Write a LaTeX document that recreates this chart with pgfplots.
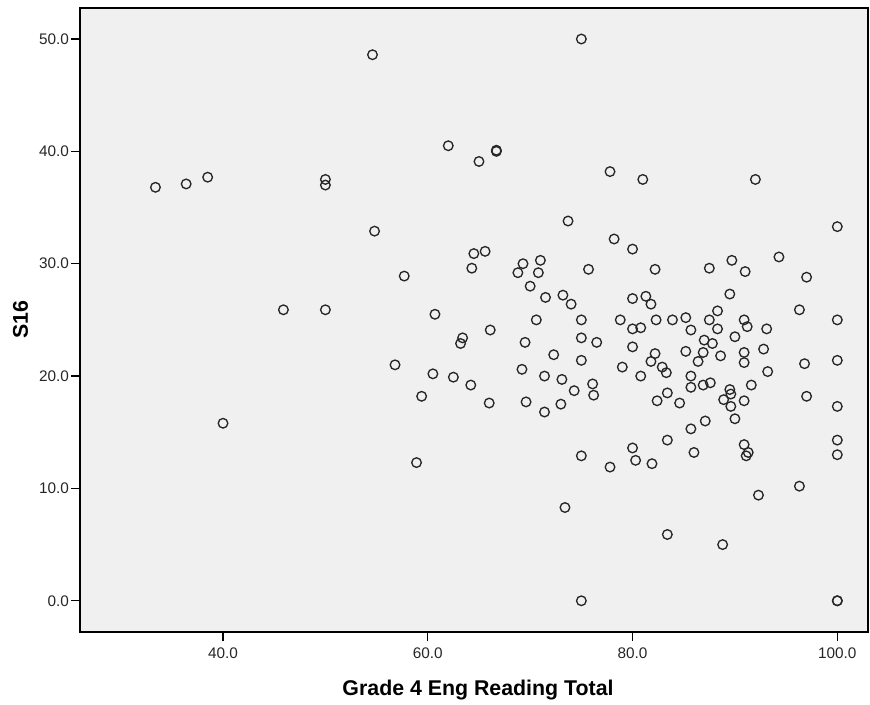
\documentclass[border=0pt]{standalone}
\usepackage{fontspec}
\setmainfont{Liberation Sans}
\usepackage{pgfplots}
\pgfplotsset{compat=1.18}
\definecolor{bg}{HTML}{F0F0F0}
\definecolor{mk}{HTML}{262626}
\begin{document}
\begin{tikzpicture}
\begin{axis}[
  at={(60pt,54pt)}, anchor=south west,
  scale only axis, width=591pt, height=468pt,
  xmin=26.03, xmax=103, ymin=-2.78, ymax=52.76,
  axis background/.style={fill=bg},
  axis line style={line width=1pt, black},
  xtick={40,60,80,100}, ytick={0,10,20,30,40,50},
  tick align=outside, major tick length=6.75pt,
  tick style={line width=1pt, black},
  xtick pos=bottom, ytick pos=left,
  minor tick num=0,
  /pgf/number format/.cd, fixed, fixed zerofill, precision=1, assume math mode=true,
  /pgfplots/.cd,
  tick label style={font=\fontsize{11.5}{13}\selectfont, text=black!85},
  xticklabel style={yshift=-1.5pt},
  yticklabel style={xshift=2pt},
  xlabel={Grade 4 Eng Reading Total},
  ylabel={S16},
  label style={font=\fontsize{16}{18}\selectfont\bfseries},
  xlabel style={at={(axis description cs:0.5051,-0.101)}, anchor=base},
  ylabel style={at={(axis description cs:-0.0755,0.5)}, anchor=center},
]
\addplot[only marks, mark=o, mark size=3.6pt, mark options={line width=1pt, draw=mk}] coordinates {
(33.4,36.8) (36.4,37.1) (38.5,37.7) (45.9,25.9) (40.0,15.8)
(54.6,48.6) (75.0,50.0) (62.0,40.5) (65.0,39.1) (66.7,40.0) (66.7,40.1)
(50.0,37.5) (50.0,37.0) (54.8,32.9) (73.7,33.8) (64.5,30.9) (65.6,31.1)
(64.3,29.6) (57.7,28.9) (69.3,30.0) (71.0,30.3) (68.8,29.2) (70.8,29.2)
(70.0,28.0) (71.5,27.0) (73.2,27.2) (74.0,26.4) (50.0,25.9) (60.7,25.5)
(70.6,25.0) (66.1,24.1) (75.0,25.0) (77.8,38.2) (81.0,37.5) (92.0,37.5)
(100,33.3) (78.2,32.2) (80.0,31.3) (75.7,29.5) (82.2,29.5) (87.5,29.6)
(89.7,30.3) (91.0,29.3) (94.3,30.6) (97.0,28.8) (89.5,27.3) (96.3,25.9)
(80.0,26.9) (81.3,27.1) (81.8,26.4) (88.3,25.8) (78.8,25.0) (82.3,25.0)
(83.9,25.0) (85.2,25.2) (87.5,25.0) (90.9,25.0) (100,25.0) (80.0,24.2)
(80.8,24.3) (85.7,24.1) (88.3,24.2) (91.2,24.4) (93.1,24.2) (75.0,23.4)
(76.5,23.0) (75.0,21.4) (74.3,18.7) (76.1,19.3) (76.2,18.3) (80.0,22.6)
(79.0,20.8) (80.8,20.0) (82.2,22.0) (81.8,21.3) (82.9,20.8) (83.3,20.3)
(85.2,22.2) (86.4,21.3) (86.9,22.1) (87.0,23.2) (87.8,22.9) (88.6,21.8)
(85.7,20.0) (85.7,19.0) (86.9,19.2) (87.6,19.4) (83.4,18.5) (82.4,17.8)
(84.6,17.6) (89.5,18.8) (89.6,18.4) (88.9,17.9) (89.6,17.3) (90.9,17.8)
(91.6,19.2) (90.9,22.1) (90.9,21.2) (90.0,23.5) (92.8,22.4) (93.2,20.4)
(96.8,21.1) (97.0,18.2) (100,21.4) (100,17.3) (100,14.3) (100,13.0)
(100,0.0) (100,0.0) (90.0,16.2) (87.1,16.0) (85.7,15.3) (83.4,14.3)
(80.0,13.6) (80.3,12.5) (81.9,12.2) (77.8,11.9) (75.0,12.9) (86.0,13.2)
(90.9,13.9) (91.3,13.2) (91.1,12.9) (96.3,10.2) (92.3,9.4) (83.4,5.9)
(88.8,5.0) (75.0,0.0) (73.4,8.3) (63.4,23.4) (63.2,22.9) (69.5,23.0)
(72.3,21.9) (56.8,21.0) (60.5,20.2) (62.5,19.9) (64.2,19.2) (59.4,18.2)
(66.0,17.6) (69.2,20.6) (71.4,20.0) (73.1,19.7) (69.6,17.7) (71.4,16.8)
(73.0,17.5) (58.9,12.3)
};
\end{axis}
\pgfresetboundingbox
\path[use as bounding box] (0,0) rectangle (652.5pt,528pt);
\end{tikzpicture}
\end{document}
